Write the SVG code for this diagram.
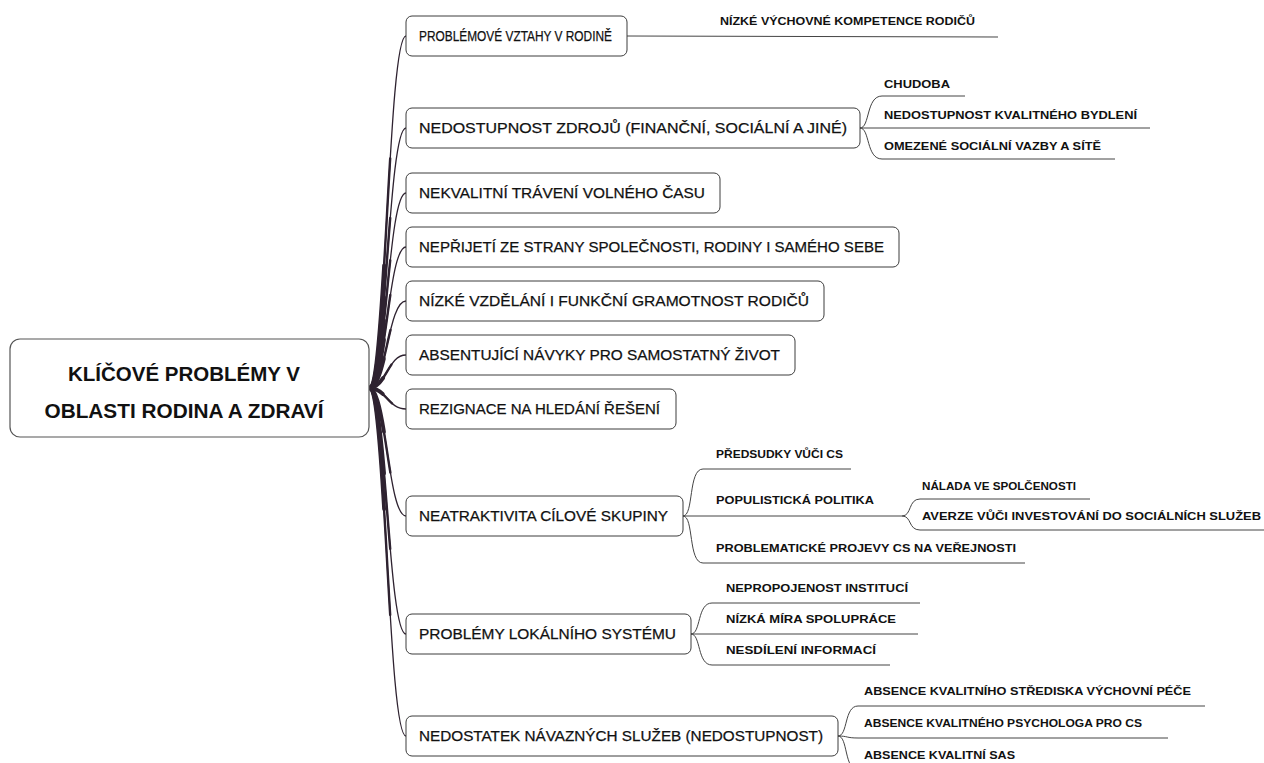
<svg xmlns="http://www.w3.org/2000/svg" width="1264" height="763" viewBox="0 0 1264 763">
<style>
.box{fill:#fff;stroke:#3c3c3c;stroke-width:1}
.root{fill:#fff;stroke:#555;stroke-width:1.2}
.t1{font-family:"Liberation Sans",Arial,sans-serif;font-size:15px;fill:#111;stroke:#111;stroke-width:0.25}
.t0{font-family:"Liberation Sans",Arial,sans-serif;font-size:21px;font-weight:bold;fill:#111}
.lf{font-family:"Liberation Sans",Arial,sans-serif;font-size:11px;font-weight:bold;fill:#111}
.tr{fill:none;stroke:#2e2230;stroke-linecap:round}
.w1{stroke-width:1.3}
.w2{stroke-width:2.4;stroke-dasharray:65 200}
.w3{stroke-width:3.8;stroke-dasharray:35 200}
.sub{fill:none;stroke:#444;stroke-width:1}
</style>
<defs>
<path id="c1" d="M369,388 C386,388 388,36 406,36" pathLength="100"/>
<path id="c2" d="M369,388 C386,388 388,128 406,128" pathLength="100"/>
<path id="c3" d="M369,388 C386,388 388,193 406,193" pathLength="100"/>
<path id="c4" d="M369,388 C386,388 388,247 406,247" pathLength="100"/>
<path id="c5" d="M369,388 C386,388 388,301 406,301" pathLength="100"/>
<path id="c6" d="M369,388 C386,388 388,355 406,355" pathLength="100"/>
<path id="c7" d="M369,388 C386,388 388,409 406,409" pathLength="100"/>
<path id="c8" d="M369,388 C386,388 388,516 406,516" pathLength="100"/>
<path id="c9" d="M369,388 C386,388 388,634 406,634" pathLength="100"/>
<path id="c10" d="M369,388 C386,388 388,736 406,736" pathLength="100"/>
</defs>
<g id="connectors">
<g class="tr w1"><use href="#c1"/><use href="#c2"/><use href="#c3"/><use href="#c4"/><use href="#c5"/><use href="#c6"/><use href="#c7"/><use href="#c8"/><use href="#c9"/><use href="#c10"/></g>
<g class="tr w2"><use href="#c1"/><use href="#c2"/><use href="#c3"/><use href="#c4"/><use href="#c5"/><use href="#c6"/><use href="#c7"/><use href="#c8"/><use href="#c9"/><use href="#c10"/></g>
<g class="tr w3"><use href="#c1"/><use href="#c2"/><use href="#c3"/><use href="#c4"/><use href="#c5"/><use href="#c6"/><use href="#c7"/><use href="#c8"/><use href="#c9"/><use href="#c10"/></g>
<g class="sub">
<path d="M627,36 L998,37"/>
<path d="M860,128 C870,128 866,96 882,96 L965,96"/>
<path d="M860,128 L1150,128"/>
<path d="M860,128 C870,128 866,159 882,159 L1115,159"/>
<path d="M683,516 C694,516 688,469 703,469 L851,469"/>
<path d="M683,516 L902,516"/>
<path d="M902,516 C912,516 908,499 920,499 L1090,499"/>
<path d="M902,516 C912,516 908,530 920,530 L1264,530"/>
<path d="M683,516 C694,516 688,563 703,563 L1025,563"/>
<path d="M691,634 C701,634 697,603 712,603 L920,603"/>
<path d="M691,634 L918,634"/>
<path d="M691,634 C701,634 697,665 712,665 L890,665"/>
<path d="M838,736 C848,736 844,706 858,706 L1205,706"/>
<path d="M838,736 C848,736 846,738 858,738 L1168,738"/>
<path d="M838,736 C848,736 844,770 858,770 L1100,770"/>
</g>
</g>
<g id="root"><rect class="root" x="10" y="339" width="359" height="98" rx="10"/>
<text class="t0" x="184" y="381" text-anchor="middle" textLength="232" lengthAdjust="spacingAndGlyphs">KLÍČOVÉ PROBLÉMY V</text>
<text class="t0" x="184" y="418" text-anchor="middle" textLength="279" lengthAdjust="spacingAndGlyphs">OBLASTI RODINA A ZDRAVÍ</text></g>
<g id="n1"><rect class="box" x="406" y="16" width="221" height="40" rx="6"/><text class="t1" x="419" y="41" textLength="193" lengthAdjust="spacingAndGlyphs">PROBLÉMOVÉ VZTAHY V RODINĚ</text></g>
<g id="n2"><rect class="box" x="406" y="108" width="454" height="40" rx="6"/><text class="t1" x="419" y="133" textLength="428" lengthAdjust="spacingAndGlyphs">NEDOSTUPNOST ZDROJŮ (FINANČNÍ, SOCIÁLNÍ A JINÉ)</text></g>
<g id="n3"><rect class="box" x="406" y="173" width="314" height="40" rx="6"/><text class="t1" x="419" y="198" textLength="286" lengthAdjust="spacingAndGlyphs">NEKVALITNÍ TRÁVENÍ VOLNÉHO ČASU</text></g>
<g id="n4"><rect class="box" x="406" y="227" width="493" height="40" rx="6"/><text class="t1" x="419" y="252" textLength="465" lengthAdjust="spacingAndGlyphs">NEPŘIJETÍ ZE STRANY SPOLEČNOSTI, RODINY I SAMÉHO SEBE</text></g>
<g id="n5"><rect class="box" x="406" y="281" width="418" height="40" rx="6"/><text class="t1" x="419" y="306" textLength="390" lengthAdjust="spacingAndGlyphs">NÍZKÉ VZDĚLÁNÍ I FUNKČNÍ GRAMOTNOST RODIČŮ</text></g>
<g id="n6"><rect class="box" x="406" y="335" width="389" height="40" rx="6"/><text class="t1" x="419" y="360" textLength="361" lengthAdjust="spacingAndGlyphs">ABSENTUJÍCÍ NÁVYKY PRO SAMOSTATNÝ ŽIVOT</text></g>
<g id="n7"><rect class="box" x="406" y="389" width="270" height="40" rx="6"/><text class="t1" x="419" y="414" textLength="241" lengthAdjust="spacingAndGlyphs">REZIGNACE NA HLEDÁNÍ ŘEŠENÍ</text></g>
<g id="n8"><rect class="box" x="406" y="496" width="277" height="40" rx="6"/><text class="t1" x="419" y="521" textLength="249" lengthAdjust="spacingAndGlyphs">NEATRAKTIVITA CÍLOVÉ SKUPINY</text></g>
<g id="n9"><rect class="box" x="406" y="614" width="285" height="40" rx="6"/><text class="t1" x="419" y="639" textLength="257" lengthAdjust="spacingAndGlyphs">PROBLÉMY LOKÁLNÍHO SYSTÉMU</text></g>
<g id="n10"><rect class="box" x="406" y="716" width="432" height="40" rx="6"/><text class="t1" x="419" y="741" textLength="404" lengthAdjust="spacingAndGlyphs">NEDOSTATEK NÁVAZNÝCH SLUŽEB (NEDOSTUPNOST)</text></g>
<g id="leaves">
<g id="l1"><text class="lf" x="720" y="25" textLength="255" lengthAdjust="spacingAndGlyphs">NÍZKÉ VÝCHOVNÉ KOMPETENCE RODIČŮ</text></g>
<g id="l2a"><text class="lf" x="884" y="88" textLength="66" lengthAdjust="spacingAndGlyphs">CHUDOBA</text></g>
<g id="l2b"><text class="lf" x="884" y="119" textLength="253" lengthAdjust="spacingAndGlyphs">NEDOSTUPNOST KVALITNÉHO BYDLENÍ</text></g>
<g id="l2c"><text class="lf" x="884" y="150" textLength="217" lengthAdjust="spacingAndGlyphs">OMEZENÉ SOCIÁLNÍ VAZBY A SÍTĚ</text></g>
<g id="l8a"><text class="lf" x="716" y="458" textLength="127" lengthAdjust="spacingAndGlyphs">PŘEDSUDKY VŮČI CS</text></g>
<g id="l8b"><text class="lf" x="716" y="504" textLength="158" lengthAdjust="spacingAndGlyphs">POPULISTICKÁ POLITIKA</text></g>
<g id="l8b1"><text class="lf" x="922" y="490" textLength="154" lengthAdjust="spacingAndGlyphs">NÁLADA VE SPOLČENOSTI</text></g>
<g id="l8b2"><text class="lf" x="922" y="520" textLength="339" lengthAdjust="spacingAndGlyphs">AVERZE VŮČI INVESTOVÁNÍ DO SOCIÁLNÍCH SLUŽEB</text></g>
<g id="l8c"><text class="lf" x="716" y="552" textLength="300" lengthAdjust="spacingAndGlyphs">PROBLEMATICKÉ PROJEVY CS NA VEŘEJNOSTI</text></g>
<g id="l9a"><text class="lf" x="726" y="592" textLength="182" lengthAdjust="spacingAndGlyphs">NEPROPOJENOST INSTITUCÍ</text></g>
<g id="l9b"><text class="lf" x="726" y="623" textLength="170" lengthAdjust="spacingAndGlyphs">NÍZKÁ MÍRA SPOLUPRÁCE</text></g>
<g id="l9c"><text class="lf" x="726" y="654" textLength="150" lengthAdjust="spacingAndGlyphs">NESDÍLENÍ INFORMACÍ</text></g>
<g id="l10a"><text class="lf" x="864" y="695" textLength="327" lengthAdjust="spacingAndGlyphs">ABSENCE KVALITNÍHO STŘEDISKA VÝCHOVNÍ PÉČE</text></g>
<g id="l10b"><text class="lf" x="864" y="727" textLength="278" lengthAdjust="spacingAndGlyphs">ABSENCE KVALITNÉHO PSYCHOLOGA PRO CS</text></g>
<g id="l10c"><text class="lf" x="864" y="759" textLength="151" lengthAdjust="spacingAndGlyphs">ABSENCE KVALITNÍ SAS</text></g>
</g>
</svg>
